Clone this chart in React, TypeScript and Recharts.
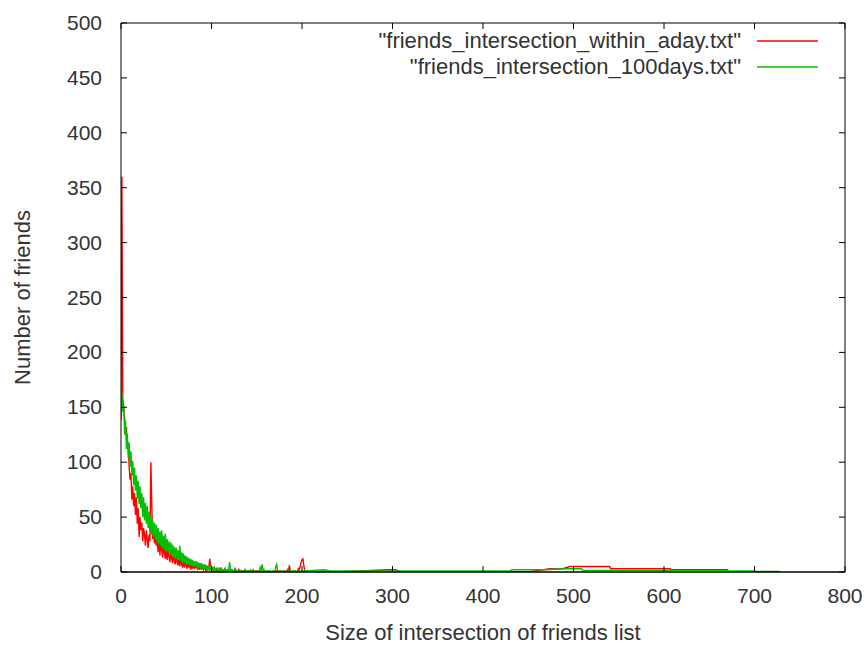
import { LineChart, Line, XAxis, YAxis, Legend } from 'recharts';

// counts for intersection sizes 0..203, one value per size
const withinDayHead = [
  150, 360, 158, 150, 140, 126, 132, 112, 118, 96,
  84, 90, 66, 78, 60, 72, 52, 68, 44, 58,
  32, 50, 38, 45, 28, 40, 34, 24, 38, 30,
  22, 34, 28, 100, 62, 30, 42, 26, 35, 24,
  30, 18, 33, 15, 27, 20, 13, 28, 17, 12,
  24, 11, 22, 14, 9, 20, 12, 8, 19, 10,
  7, 16, 9, 6, 15, 5, 13, 7, 4, 12,
  4, 11, 6, 3, 10, 4, 9, 2, 8, 3,
  7, 3, 6, 4, 8, 3, 5, 2, 6, 3,
  4, 2, 5, 3, 1, 4, 2, 3, 12, 6,
  2, 3, 1, 4, 2, 1, 3, 0, 2, 1,
  3, 1, 0, 2, 1, 3, 0, 1, 2, 0,
  1, 0, 2, 1, 0, 1, 3, 0, 1, 0,
  2, 0, 1, 0, 1, 0, 0, 2, 0, 1,
  0, 1, 0, 0, 1, 0, 2, 0, 0, 1,
  0, 0, 1, 0, 0, 1, 0, 0, 2, 0,
  0, 1, 0, 0, 0, 1, 0, 0, 0, 1,
  0, 0, 1, 0, 0, 0, 1, 0, 0, 0,
  1, 0, 0, 0, 2, 0, 6, 1, 0, 0,
  0, 1, 0, 0, 0, 1, 3, 2, 5, 9,
  11, 12, 6, 1,
];

const hundredDaysHead = [
  138, 163, 146, 152, 125, 138, 112, 126, 104, 118,
  96, 110, 88, 101, 79, 95, 74, 88, 67, 83,
  62, 78, 58, 72, 50, 68, 47, 63, 44, 60,
  40, 55, 37, 52, 34, 48, 32, 45, 30, 43,
  27, 40, 25, 37, 24, 38, 22, 33, 21, 35,
  19, 30, 18, 28, 16, 27, 15, 25, 14, 23,
  13, 22, 12, 20, 11, 24, 10, 18, 9, 17,
  8, 15, 8, 14, 7, 13, 6, 12, 6, 11,
  5, 10, 5, 10, 4, 9, 4, 8, 3, 8,
  3, 7, 2, 7, 2, 6, 2, 6, 1, 5,
  2, 4, 2, 4, 1, 3, 2, 3, 1, 3,
  1, 3, 1, 2, 1, 3, 0, 2, 1, 2,
  9, 2, 1, 2, 0, 1, 1, 2, 0, 1,
  1, 2, 0, 1, 0, 1, 1, 2, 0, 1,
  0, 1, 0, 2, 1, 0, 1, 1, 0, 1,
  0, 1, 0, 1, 5, 2, 7, 1, 0, 1,
  0, 1, 0, 1, 0, 1, 0, 0, 1, 0,
  0, 5, 7, 2, 0, 1, 0, 0, 1, 0,
  1, 0, 1, 0, 0, 1, 0, 1, 0, 1,
  0, 1, 0, 1, 0, 1, 1, 0, 1, 1,
  1, 1, 0, 1,
];

// sparse tail beyond size 203
const withinDayTail = [
  { x: 240, y: 0 }, { x: 295, y: 2 }, { x: 303, y: 2 }, { x: 310, y: 0 },
  { x: 450, y: 0 }, { x: 474, y: 3 }, { x: 488, y: 3 }, { x: 496, y: 5 },
  { x: 540, y: 5 }, { x: 541, y: 3 }, { x: 607, y: 3 }, { x: 608, y: 2 },
  { x: 671, y: 2 },
];

const hundredDaysTail = [
  { x: 225, y: 2 }, { x: 231, y: 1 }, { x: 430, y: 1 }, { x: 432, y: 2 },
  { x: 470, y: 2 }, { x: 488, y: 3 }, { x: 509, y: 3 }, { x: 510, y: 1.5 },
  { x: 670, y: 1.5 }, { x: 671, y: 1 }, { x: 700, y: 1 }, { x: 701, y: 0.5 },
  { x: 728, y: 0.5 },
];

const seriesNames = ['"friends_intersection_within_aday.txt"', '"friends_intersection_100days.txt"'];
const seriesColors = ['#ff0000', '#00c000'];

const xTicks = [0, 100, 200, 300, 400, 500, 600, 700, 800];
const yTicks = [0, 50, 100, 150, 200, 250, 300, 350, 400, 450, 500];

const withinDay = withinDayHead.map((y, x) => ({ x, y })).concat(withinDayTail);
const hundredDays = hundredDaysHead.map((y, x) => ({ x, y })).concat(hundredDaysTail);

const FONT = '"Liberation Sans", Arial, sans-serif';
const TEXT = '#333';
const TICK = 6;

const BottomTick = ({ x, y, payload }: any) => (
  <g>
    <line x1={x} y1={y} x2={x} y2={y - TICK} stroke="#000" />
    <text x={x} y={y + 31} textAnchor="middle" fontFamily={FONT} fontSize={21} fill={TEXT}>
      {payload.value}
    </text>
  </g>
);

const LeftTick = ({ x, y, payload }: any) => (
  <g>
    <line x1={x} y1={y} x2={x + TICK} y2={y} stroke="#000" />
    <text x={x - 19} y={y + 7} textAnchor="end" fontFamily={FONT} fontSize={21} fill={TEXT}>
      {payload.value}
    </text>
  </g>
);

const TopTick = ({ x, y }: any) => <line x1={x} y1={y} x2={x} y2={y + TICK} stroke="#000" />;
const RightTick = ({ x, y }: any) => <line x1={x} y1={y} x2={x - TICK} y2={y} stroke="#000" />;

// key drawn in plot order (red first), gnuplot style: text then sample line
const KeyContent = () => (
  <div style={{ fontFamily: FONT, fontSize: 22, color: TEXT }}>
    {seriesNames.map((name, i) => (
      <div key={name} style={{ display: 'flex', alignItems: 'center', justifyContent: 'flex-end', height: 26 }}>
        <span style={{ whiteSpace: 'nowrap' }}>{name}</span>
        <svg width={77} height={26}>
          <line x1={16} y1={13} x2={77} y2={13} stroke={seriesColors[i]} strokeWidth={1.3} />
        </svg>
      </div>
    ))}
  </div>
);

const XTitle = ({ viewBox }: any) => (
  <text x={viewBox.x + viewBox.width / 2} y={640} textAnchor="middle" fontFamily={FONT} fontSize={22} fill={TEXT}>
    Size of intersection of friends list
  </text>
);

const YTitle = ({ viewBox }: any) => (
  <text
    x={30}
    y={viewBox.y + viewBox.height / 2}
    transform={`rotate(-90, 30, ${viewBox.y + viewBox.height / 2})`}
    textAnchor="middle"
    fontFamily={FONT}
    fontSize={22}
    fill={TEXT}
  >
    Number of friends
  </text>
);

export default function App() {
  return (
    <div style={{ position: 'absolute', left: 0, top: 0, background: '#fff' }}>
      <LineChart width={865} height={645} margin={{ top: 0, right: 0, bottom: 0, left: 0 }}>
        <XAxis
          dataKey="x"
          type="number"
          domain={[0, 800]}
          ticks={xTicks}
          allowDataOverflow
          height={73}
          tickSize={0}
          tickMargin={0}
          tick={<BottomTick />}
          axisLine={{ stroke: '#000', strokeWidth: 1.5 }}
          label={<XTitle />}
        />
        <XAxis
          xAxisId="top"
          orientation="top"
          dataKey="x"
          type="number"
          domain={[0, 800]}
          ticks={xTicks}
          allowDataOverflow
          height={23}
          tickSize={0}
          tickMargin={0}
          tick={<TopTick />}
          axisLine={{ stroke: '#000' }}
        />
        <YAxis
          type="number"
          domain={[0, 500]}
          ticks={yTicks}
          allowDataOverflow
          width={121}
          tickSize={0}
          tickMargin={0}
          tick={<LeftTick />}
          axisLine={{ stroke: '#000' }}
          label={<YTitle />}
        />
        <YAxis
          yAxisId="right"
          orientation="right"
          type="number"
          domain={[0, 500]}
          ticks={yTicks}
          allowDataOverflow
          width={20}
          tickSize={0}
          tickMargin={0}
          tick={<RightTick />}
          axisLine={{ stroke: '#000' }}
        />
        <Legend
          layout="vertical"
          align="center"
          verticalAlign="middle"
          wrapperStyle={{ top: 28, right: 47, left: 'auto', width: 'auto' }}
          content={<KeyContent />}
        />
        <Line
          data={withinDay}
          dataKey="y"
          name={seriesNames[0]}
          stroke={seriesColors[0]}
          strokeWidth={1.4}
          dot={false}
          activeDot={false}
          isAnimationActive={false}
        />
        <Line
          data={hundredDays}
          dataKey="y"
          name={seriesNames[1]}
          stroke={seriesColors[1]}
          strokeWidth={1.4}
          dot={false}
          activeDot={false}
          isAnimationActive={false}
        />
      </LineChart>
    </div>
  );
}
